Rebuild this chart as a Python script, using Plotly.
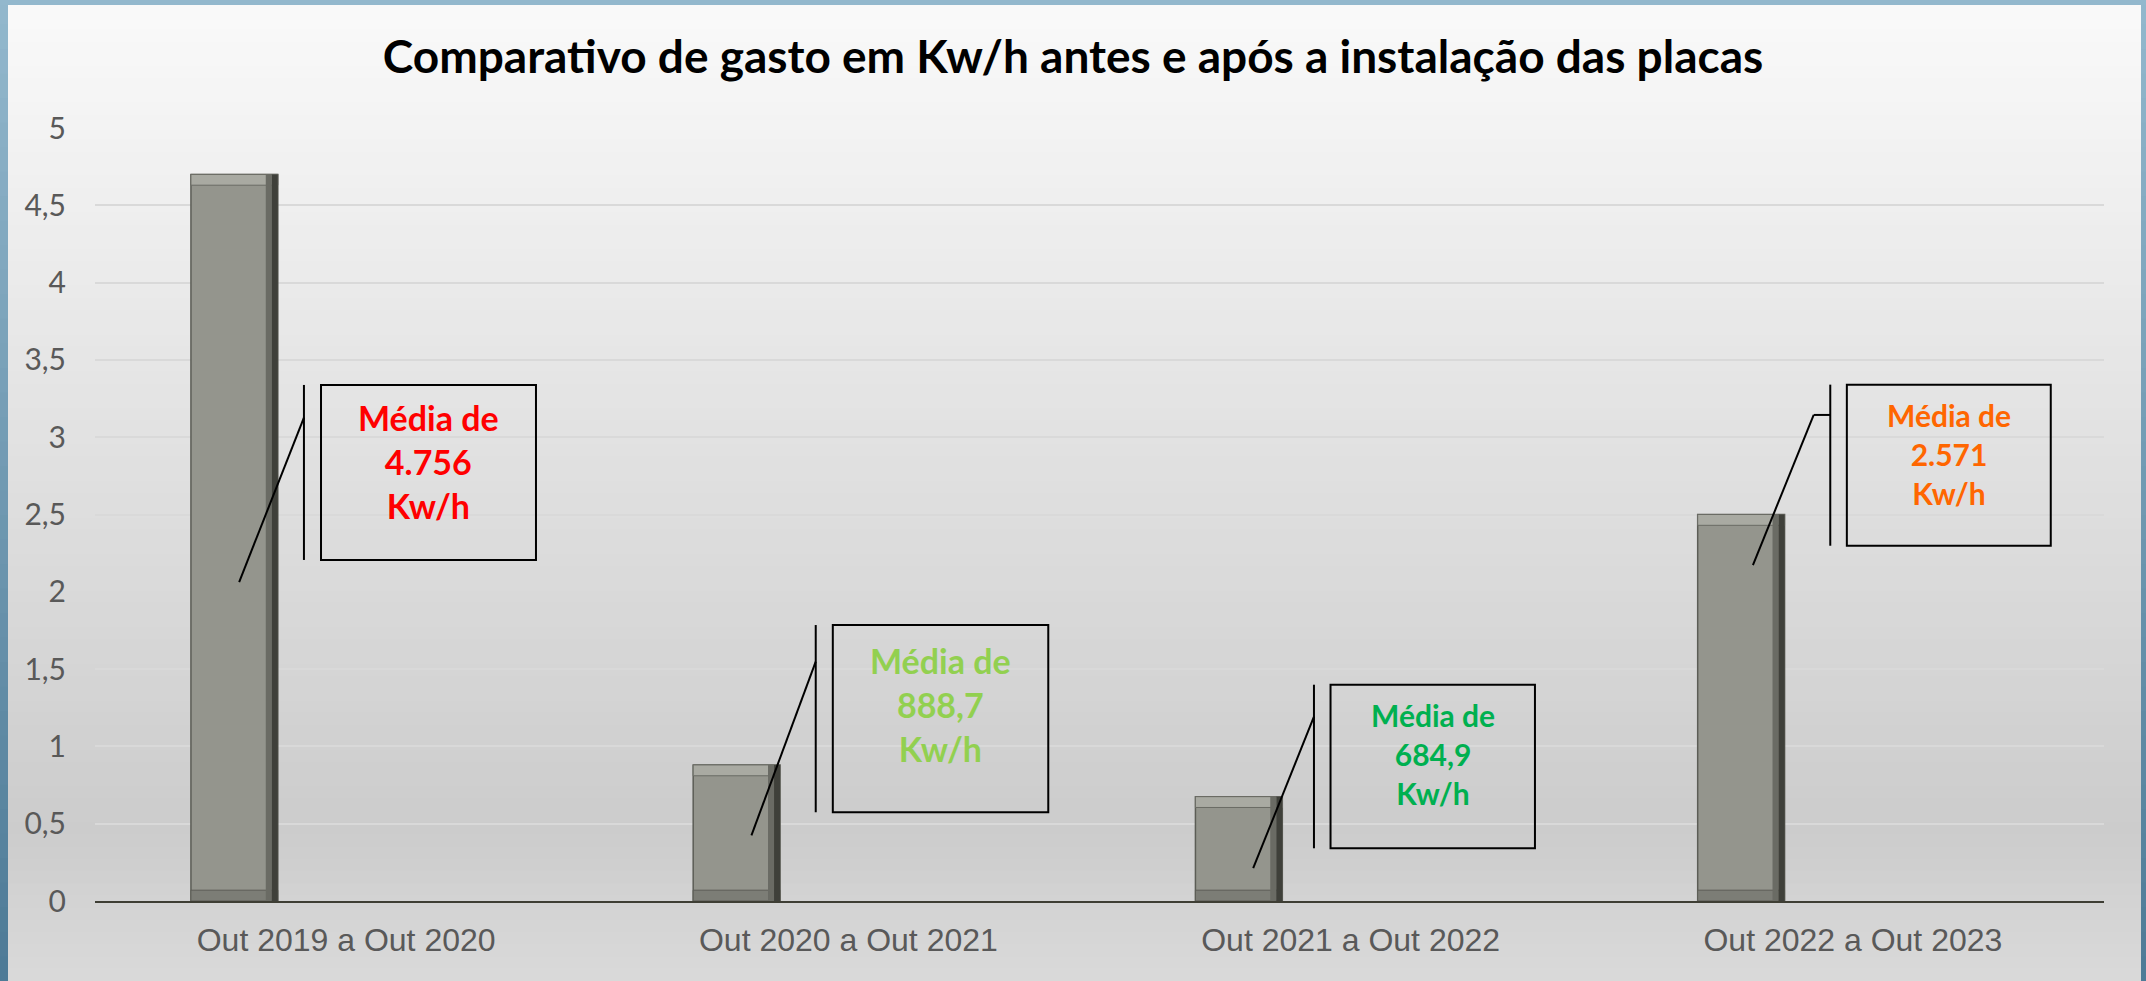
import plotly.graph_objects as go

# dados
categorias = ["Out 2019 a Out 2020", "Out 2020 a Out 2021", "Out 2021 a Out 2022", "Out 2022 a Out 2023"]
consumo = [4.70, 0.88, 0.675, 2.50]
medias = ["4.756", "888,7", "684,9", "2.571"]
cores_media = ["#ff0000", "#92d050", "#00b050", "#ff6600"]
y_ticks = [0, 0.5, 1, 1.5, 2, 2.5, 3, 3.5, 4, 4.5, 5]

# layout em pixels
W, H = 2146, 981
L, R, T, B = 95, 42, 128, 80
PW, PH = W - L - R, H - T - B


def px(x):
    return (x - L) / PW


def py(y):
    return (H - B - y) / PH


def lerp(stops, v):
    for (a, ca), (b, cb) in zip(stops, stops[1:]):
        if a <= v <= b:
            t = (v - a) / (b - a)
            return tuple(round(ca[i] + (cb[i] - ca[i]) * t) for i in range(3))
    return stops[-1][1]


shapes = []

# fundo em degradê (faixas horizontais)
fundo = [(0, (250, 250, 250)), (830, (204, 204, 204)), (981, (218, 218, 218))]
n = 80
for i in range(n):
    y0 = 5 + (H - 5) * i / n
    y1 = 5 + (H - 5) * (i + 1) / n
    c = lerp(fundo, (y0 + y1) / 2)
    shapes.append(dict(type="rect", xref="paper", yref="paper", layer="below",
                       x0=px(8), x1=px(2141), y0=py(y1 + 1), y1=py(y0),
                       fillcolor="rgb(%d,%d,%d)" % c, line_width=0))

# moldura azul nas laterais
borda = [(0, (147, 184, 205)), (981, (77, 122, 150))]
for i in range(40):
    y0 = H * i / 40
    y1 = H * (i + 1) / 40
    c = "rgb(%d,%d,%d)" % lerp(borda, (y0 + y1) / 2)
    for xa, xb in [(0, 8), (2141, W)]:
        shapes.append(dict(type="rect", xref="paper", yref="paper", layer="below",
                           x0=px(xa), x1=px(xb), y0=py(y1 + 1), y1=py(y0),
                           fillcolor=c, line_width=0))
shapes.append(dict(type="rect", xref="paper", yref="paper", layer="below",
                   x0=px(0), x1=px(W), y0=py(5), y1=py(0),
                   fillcolor="rgb(147,184,205)", line_width=0))

# caixas de texto (callouts): caixa, linha vertical, linha de chamada
callouts = [
    dict(box=(-0.050, 0.378, 2.206, 3.338), vline=-0.084, leader=[(-0.213, 2.063), (-0.084, 3.126)], ty=2.84, size=34),
    dict(box=(0.969, 1.398, 0.574, 1.785), vline=0.935, leader=[(0.807, 0.425), (0.935, 1.548)], ty=1.274, size=34),
    dict(box=(1.960, 2.367, 0.341, 1.399), vline=1.927, leader=[(1.806, 0.212), (1.927, 1.192)], ty=0.951, size=30),
    dict(box=(2.988, 3.394, 2.298, 3.340), vline=2.955, leader=[(2.801, 2.173), (2.922, 3.144), (2.955, 3.144)], ty=2.891, size=30),
]

annotations = []
for co, val, cor in zip(callouts, medias, cores_media):
    x0, x1, y0, y1 = co["box"]
    shapes.append(dict(type="rect", xref="x", yref="y", x0=x0, x1=x1, y0=y0, y1=y1,
                       line=dict(color="black", width=2), fillcolor="rgba(0,0,0,0)"))
    shapes.append(dict(type="line", xref="x", yref="y", x0=co["vline"], x1=co["vline"], y0=y0, y1=y1,
                       line=dict(color="black", width=2)))
    pts = co["leader"]
    for (ax, ay), (bx, by) in zip(pts, pts[1:]):
        shapes.append(dict(type="line", xref="x", yref="y", x0=ax, y0=ay, x1=bx, y1=by,
                           line=dict(color="black", width=2)))
    annotations.append(dict(x=(x0 + x1) / 2, y=co["ty"], xref="x", yref="y",
                            text="Média de<br>%s<br>Kw/h" % val, showarrow=False,
                            xanchor="center", yanchor="middle", align="center",
                            font=dict(family="Lato", size=co["size"], color=cor, weight=700)))

x_idx = list(range(len(categorias)))
bar_off, bar_w = -0.309, 0.173

fig = go.Figure()
fig.add_trace(go.Bar(x=x_idx, y=consumo, offset=bar_off, width=bar_w,
                     marker=dict(color="#94958d", line=dict(color="#5c5d56", width=1.5)),
                     hoverinfo="skip"))
# bisel: faixa clara no topo, faixa escura embaixo e borda direita escura
bev = 0.07
fig.add_trace(go.Bar(x=x_idx, y=[bev] * len(consumo), base=[v - bev for v in consumo],
                     offset=bar_off, width=bar_w,
                     marker=dict(color="#a9aaa2", line=dict(color="#6a6b64", width=1)), hoverinfo="skip"))
fig.add_trace(go.Bar(x=x_idx, y=[bev] * len(consumo), base=[0] * len(consumo),
                     offset=bar_off, width=bar_w,
                     marker=dict(color="#7c7d76", line=dict(color="#5c5d56", width=1)), hoverinfo="skip"))
fig.add_trace(go.Bar(x=x_idx, y=consumo, offset=bar_off + bar_w - 0.024, width=0.012,
                     marker=dict(color="#6a6b64", line_width=0), hoverinfo="skip"))
fig.add_trace(go.Bar(x=x_idx, y=consumo, offset=bar_off + bar_w - 0.012, width=0.012,
                     marker=dict(color="#3f403a", line_width=0), hoverinfo="skip"))

fig.update_layout(
    width=W, height=H,
    margin=dict(l=L, r=R, t=T, b=B),
    paper_bgcolor="rgb(147,184,205)",
    plot_bgcolor="rgba(0,0,0,0)",
    barmode="overlay",
    showlegend=False,
    separators=",.",
    title=dict(text="Comparativo de gasto em Kw/h antes e após a instalação das placas",
               x=0.5, xanchor="center", y=1 - 57 / H, yanchor="middle",
               font=dict(family="Lato", size=46, color="black", weight=700)),
    xaxis=dict(range=[-0.5, 3.5], tickvals=x_idx, ticktext=categorias, showgrid=False,
               zeroline=False, showline=True, linecolor="#3e3e34", linewidth=2, ticks="",
               ticklabelstandoff=10,
               tickfont=dict(family="Liberation Sans", size=32, color="#595959")),
    yaxis=dict(range=[0, 5], tickvals=y_ticks, showgrid=True, gridcolor="#d9d9d9", gridwidth=2,
               zeroline=False, showline=False, ticks="", ticklabelstandoff=28,
               tickfont=dict(family="Lato", size=30, color="#595959")),
    shapes=shapes,
    annotations=annotations,
)

# sem margem do body, para a figura ocupar a janela inteira
fig.write_html("out.html", config={"displayModeBar": False},
               post_script="document.body.style.margin='0';")
